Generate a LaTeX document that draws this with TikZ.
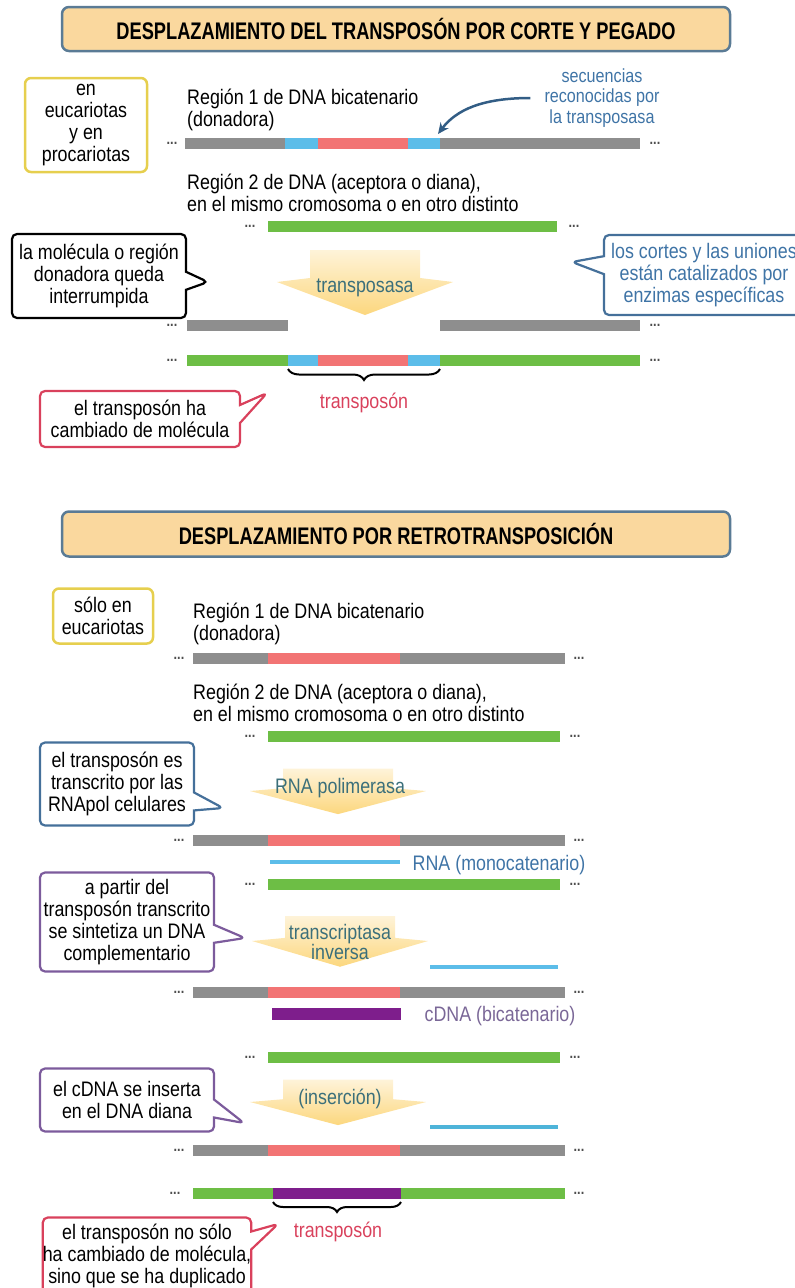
\documentclass[tikz,border=0pt]{standalone}
\usepackage{fontspec}
\setmainfont{Liberation Sans}[FakeStretch=0.85]
\newfontfamily\titlefont{Liberation Sans}[FakeStretch=0.76]
\usetikzlibrary{shapes.callouts, decorations.pathreplacing, arrows.meta}

\definecolor{dnagray}{HTML}{8E8E8E}
\definecolor{dnared}{HTML}{F27474}
\definecolor{dnablue}{HTML}{5CBDE9}
\definecolor{dnagreen}{HTML}{6DBE45}
\definecolor{dnapurple}{HTML}{7E1E8C}
\definecolor{titlefill}{HTML}{FAD89E}
\definecolor{titleline}{HTML}{5A7B95}
\definecolor{boxyellow}{HTML}{E6CF4E}
\definecolor{labelblue}{HTML}{3F74A6}
\definecolor{enzteal}{HTML}{3B6F7A}
\definecolor{calloutred}{HTML}{D9415C}
\definecolor{calloutpurple}{HTML}{7C5B9C}
\definecolor{calloutblue}{HTML}{45709A}
\definecolor{arrowyel}{HTML}{FCD77E}
\definecolor{cdnatext}{HTML}{7A6797}

\tikzset{
  every node/.style={font=\fontsize{21}{22}\selectfont, inner sep=0pt},
  titlebox/.style={draw=titleline, line width=2.5pt, fill=titlefill, rounded corners=7pt,
    minimum width=668pt, minimum height=44pt, font=\titlefont\bfseries\fontsize{24}{26}\selectfont},
  orgbox/.style={draw=boxyellow, line width=2.5pt, rounded corners=6pt, align=center, fill=white},
  bar/.style={line width=11pt},
  thinbar/.style={line width=4pt},
  dots/.style={font=\bfseries\fontsize{15}{15}\selectfont, text=dnagray!55!black},
  note/.style={rectangle callout, draw, line width=2.2pt, rounded corners=5pt, align=center,
    fill=white, callout pointer width=18pt},
  enzlabel/.style={text=enzteal, align=center},
  seqarrow/.style={-{Stealth[length=11pt,width=10pt]}, draw=labelblue!80!black, line width=2.5pt},
  pics/enzarrow/.style={code={
    \path[top color=arrowyel!30, bottom color=arrowyel]
      (-55,-32) -- (55,-32) -- (55,-4) -- (88,0) -- (0,33) -- (-88,0) -- (-55,-4) -- cycle;
  }},
}

\begin{document}
\begin{tikzpicture}[x=1pt, y=-1pt]
  \useasboundingbox (0,0) rectangle (795,1288);

  % Corte y pegado
  \node[titlebox] (title1) at (396,29) {DESPLAZAMIENTO DEL TRANSPOSÓN POR CORTE Y PEGADO};
  \node[orgbox, minimum width=122pt, minimum height=94pt] (host1) at (86,125) {en\\eucariotas\\y en\\procariotas};
  \node[anchor=west, align=left] (donor1) at (187,110) {Región 1 de DNA bicatenario\\(donadora)};
  \node[text=labelblue, align=center, font=\fontsize{19}{20.5}\selectfont] (seqlabel) at (602,98) {secuencias\\reconocidas por\\la transposasa};

  % Donadora
  \node[dots] (d1l) at (172,143) {...};
  \draw[bar, dnagray] (185,143) -- (285,143);
  \draw[bar, dnablue] (285,143) -- (318,143);
  \draw[bar, dnared] (318,143) -- (408,143);
  \draw[bar, dnablue] (408,143) -- (440,143);
  \draw[bar, dnagray] (440,143) -- (640,143);
  \node[dots] (d1r) at (655,143) {...};
  \coordinate (seqtip) at (438,134);
  \draw[seqarrow] ([xshift=-14pt]seqlabel.west) .. controls (482,98) and (456,110) .. (seqtip);

  % Aceptora
  \node[anchor=west, align=left] (acc1) at (187,193) {Región 2 de DNA (aceptora o diana),\\en el mismo cromosoma o en otro distinto};
  \node[dots] (a1l) at (250,226) {...};
  \draw[bar, dnagreen] (268,226) -- (557,226);
  \node[dots] (a1r) at (574,226) {...};

  % Transposasa
  \pic at (365,282) {enzarrow};
  \node[enzlabel] (tpase) at (365,288) {transposasa};
  \node[note, minimum width=174pt, minimum height=84pt, callout absolute pointer={(208,282)}] (cutnote) at (99,276)
    {la molécula o región\\donadora queda\\interrumpida};
  \node[note, draw=calloutblue, text=labelblue, minimum width=200pt, minimum height=80pt,
    callout absolute pointer={(572,262)}] (enznote) at (704,275)
    {los cortes y las uniones\\están catalizados por\\enzimas específicas};

  % Resultado
  \node[dots] (d2l) at (172,325) {...};
  \draw[bar, dnagray] (187,325) -- (288,325);
  \draw[bar, dnagray] (440,325) -- (640,325);
  \node[dots] (d2r) at (655,325) {...};
  \node[dots] (a2l) at (172,360) {...};
  \draw[bar, dnagreen] (187,360) -- (288,360);
  \draw[bar, dnablue] (288,360) -- (318,360);
  \draw[bar, dnared] (318,360) -- (408,360);
  \draw[bar, dnablue] (408,360) -- (440,360);
  \draw[bar, dnagreen] (440,360) -- (640,360);
  \node[dots] (a2r) at (655,360) {...};
  \coordinate (tn1a) at (288,369);
  \coordinate (tn1b) at (440,369);
  \draw[decorate, decoration={brace, mirror, amplitude=11pt}, line width=2pt] (tn1a) -- (tn1b);
  \node[text=calloutred] (tn1) at (364,403) {transposón};
  \node[note, draw=calloutred, minimum width=200pt, minimum height=56pt,
    callout absolute pointer={(267,393)}] (movenote) at (140,419)
    {el transposón ha\\cambiado de molécula};

  % Retrotransposicion
  \node[titlebox, minimum height=45pt] (title2) at (396,534) {DESPLAZAMIENTO POR RETROTRANSPOSICIÓN};
  \node[orgbox, minimum width=100pt, minimum height=55pt] (host2) at (103,616) {sólo en\\eucariotas};
  \node[anchor=west, align=left] (donor2) at (193,624) {Región 1 de DNA bicatenario\\(donadora)};

  % Donadora
  \node[dots] (e1l) at (179,658) {...};
  \draw[bar, dnagray] (193,658) -- (268,658);
  \draw[bar, dnared] (268,658) -- (400,658);
  \draw[bar, dnagray] (400,658) -- (565,658);
  \node[dots] (e1r) at (579,658) {...};

  % Aceptora
  \node[anchor=west, align=left] (acc2) at (193,703) {Región 2 de DNA (aceptora o diana),\\en el mismo cromosoma o en otro distinto};
  \node[dots] (b1l) at (250,736) {...};
  \draw[bar, dnagreen] (268,736) -- (560,736);
  \node[dots] (b1r) at (575,736) {...};

  % RNA polimerasa
  \pic[yscale=0.7] at (338,791) {enzarrow};
  \node[enzlabel] (rnapol) at (340,788) {RNA polimerasa};
  \node[note, draw=calloutblue, minimum width=154pt, minimum height=83pt,
    callout absolute pointer={(223,808)}] (rnapolnote) at (117,784)
    {el transposón es\\transcrito por las\\RNApol celulares};
  \node[dots] (e2l) at (179,840) {...};
  \draw[bar, dnagray] (193,840) -- (268,840);
  \draw[bar, dnared] (268,840) -- (400,840);
  \draw[bar, dnagray] (400,840) -- (565,840);
  \node[dots] (e2r) at (579,840) {...};
  \draw[thinbar, dnablue] (270,862) -- (400,862);
  \node[text=labelblue] (rnalabel) at (499,865) {RNA (monocatenario)};
  \node[dots] (b2l) at (250,884) {...};
  \draw[bar, dnagreen] (268,884) -- (560,884);
  \node[dots] (b2r) at (575,884) {...};

  % Transcriptasa inversa
  \pic[yscale=0.78] at (340,941) {enzarrow};
  \node[enzlabel, font=\fontsize{21}{20}\selectfont] (rtase) at (340,942) {transcriptasa\\inversa};
  \node[note, draw=calloutpurple, minimum width=174pt, minimum height=99pt,
    callout absolute pointer={(245,938)}] (cdnanote) at (127,922)
    {a partir del\\transposón transcrito\\se sintetiza un DNA\\complementario};
  \draw[thinbar, dnablue] (430,967) -- (558,967);
  \node[dots] (e3l) at (179,992) {...};
  \draw[bar, dnagray] (193,992) -- (268,992);
  \draw[bar, dnared] (268,992) -- (400,992);
  \draw[bar, dnagray] (400,992) -- (565,992);
  \node[dots] (e3r) at (579,992) {...};
  \draw[bar, line width=12pt, dnapurple] (272,1014) -- (401,1014);
  \node[text=cdnatext] (cdnalabel) at (500,1016) {cDNA (bicatenario)};

  % Insercion
  \node[dots] (b3l) at (250,1057) {...};
  \draw[bar, dnagreen] (268,1057) -- (560,1057);
  \node[dots] (b3r) at (575,1057) {...};
  \pic[yscale=0.7] at (338,1102) {enzarrow};
  \node[enzlabel] (insert) at (340,1099) {(inserción)};
  \node[note, draw=calloutpurple, minimum width=174pt, minimum height=63pt,
    callout absolute pointer={(244,1123)}] (insnote) at (127,1100)
    {el cDNA se inserta\\en el DNA diana};
  \draw[thinbar, dnablue!85!teal] (430,1127) -- (558,1127);
  \node[dots] (e4l) at (179,1150) {...};
  \draw[bar, dnagray] (193,1150) -- (268,1150);
  \draw[bar, dnared] (268,1150) -- (400,1150);
  \draw[bar, dnagray] (400,1150) -- (565,1150);
  \node[dots] (e4r) at (579,1150) {...};
  \node[dots] (b4l) at (175,1193) {...};
  \draw[bar, dnagreen] (193,1193) -- (273,1193);
  \draw[bar, dnapurple] (273,1193) -- (401,1193);
  \draw[bar, dnagreen] (401,1193) -- (565,1193);
  \node[dots] (b4r) at (579,1193) {...};
  \coordinate (tn2a) at (273,1202);
  \coordinate (tn2b) at (401,1202);
  \draw[decorate, decoration={brace, mirror, amplitude=10pt}, line width=2pt] (tn2a) -- (tn2b);
  \node[text=calloutred] (tn2) at (338,1232) {transposón};
  \node[note, draw=calloutred, minimum width=207pt, minimum height=77pt,
    callout absolute pointer={(278,1224)}] (dupnote) at (147,1256)
    {el transposón no sólo\\ha cambiado de molécula,\\sino que se ha duplicado};
\end{tikzpicture}
\end{document}
